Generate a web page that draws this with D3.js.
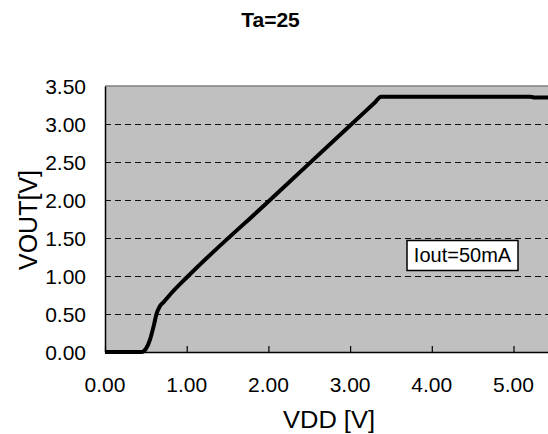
<!DOCTYPE html>
<html>
<head>
<meta charset="utf-8">
<script src="https://cdn.jsdelivr.net/npm/d3@7"></script>
<style>
  html, body { margin: 0; padding: 0; background: #fff; }
  svg { display: block; font-family: "Liberation Sans", Arial, sans-serif; }
</style>
</head>
<body>
<svg id="chart" width="548" height="434"></svg>
<script>
// VOUT vs VDD at Ta=25, Iout=50mA
const vdd  = [0.00, 0.45, 0.50, 0.55, 0.60, 0.63, 0.67, 0.72, 0.80, 1.00, 2.00, 3.00, 3.30, 3.38, 3.46, 5.20, 5.25, 5.50];
const vout = [0.00, 0.00, 0.04, 0.16, 0.36, 0.50, 0.60, 0.66, 0.76, 0.98, 1.98, 2.98, 3.28, 3.36, 3.36, 3.36, 3.35, 3.35];
const xTicks = [0, 1, 2, 3, 4, 5];
const yTicks = [0, 0.5, 1, 1.5, 2, 2.5, 3, 3.5];
const gridValues = [0.5, 1, 1.5, 2, 2.5, 3];

const svg = d3.select("#chart");
const plotLeft = 105, plotTop = 86, plotBottom = 352;

const x = d3.scaleLinear().domain([0, 5.5]).range([plotLeft, plotLeft + 5.5 * 81.7]);
const y = d3.scaleLinear().domain([0, 3.5]).range([plotBottom, plotTop]);

// plot background
svg.append("rect")
  .attr("x", plotLeft).attr("y", plotTop)
  .attr("width", x(5.5) - plotLeft).attr("height", plotBottom - plotTop)
  .attr("fill", "#c0c0c0");

// top border
svg.append("line")
  .attr("x1", plotLeft).attr("x2", x(5.5))
  .attr("y1", plotTop).attr("y2", plotTop)
  .attr("stroke", "#808080").attr("stroke-width", 1.5);

// dashed horizontal grid
svg.append("g").attr("shape-rendering", "crispEdges")
  .selectAll("line").data(gridValues).join("line")
  .attr("x1", plotLeft).attr("x2", x(5.5))
  .attr("y1", d => Math.round(y(d)) + 0.5).attr("y2", d => Math.round(y(d)) + 0.5)
  .attr("stroke", "#111").attr("stroke-width", 1)
  .attr("stroke-dasharray", "6,4");

// x axis: line with inward ticks
const xAxis = d3.axisBottom(x).tickValues(xTicks).tickSizeInner(-6).tickSizeOuter(0).tickFormat("");
const gx = svg.append("g").attr("transform", `translate(0,${plotBottom})`).call(xAxis);
gx.select(".domain").attr("stroke", "#000").attr("stroke-width", 1.5);
gx.selectAll(".tick line").attr("stroke", "#000").attr("stroke-width", 1.2);

// x tick labels
svg.append("g").selectAll("text").data(xTicks).join("text")
  .attr("x", d => x(d)).attr("y", 392)
  .attr("text-anchor", "middle")
  .attr("font-size", 21).attr("fill", "#000")
  .text(d => d.toFixed(2));

// y axis line
const yAxis = d3.axisLeft(y).tickValues(yTicks).tickSize(0).tickFormat("");
const gy = svg.append("g").attr("transform", `translate(${plotLeft},0)`).call(yAxis);
gy.select(".domain").attr("stroke", "#000").attr("stroke-width", 1.5);

// y tick labels
svg.append("g").selectAll("text").data(yTicks).join("text")
  .attr("x", 86).attr("y", d => y(d) + 7.5)
  .attr("text-anchor", "end")
  .attr("font-size", 21).attr("fill", "#000")
  .text(d => d.toFixed(2));

// curve
const line = d3.line().x((d, i) => x(vdd[i])).y(d => y(d)).curve(d3.curveMonotoneX);
svg.append("path")
  .datum(vout)
  .attr("d", line)
  .attr("fill", "none")
  .attr("stroke", "#000")
  .attr("stroke-width", 4)
  .attr("stroke-linejoin", "round");

// condition box
svg.append("rect")
  .attr("x", 407).attr("y", 240.5)
  .attr("width", 111).attr("height", 30)
  .attr("fill", "#fff").attr("stroke", "#000").attr("stroke-width", 1.5);
svg.append("text")
  .attr("x", 462.5).attr("y", 262)
  .attr("text-anchor", "middle")
  .attr("font-size", 20).attr("fill", "#000")
  .text("Iout=50mA");

// title
svg.append("text")
  .attr("x", 270.5).attr("y", 27)
  .attr("text-anchor", "middle")
  .attr("font-family", "'Liberation Sans Narrow', 'Liberation Sans', Arial, sans-serif")
  .attr("font-size", 21).attr("font-weight", "bold")
  .text("Ta=25");

// axis titles
svg.append("text")
  .attr("x", 329).attr("y", 428)
  .attr("text-anchor", "middle")
  .attr("font-size", 23)
  .attr("textLength", 92).attr("lengthAdjust", "spacingAndGlyphs")
  .text("VDD [V]");

svg.append("text")
  .attr("transform", "translate(37,220) rotate(-90)")
  .attr("text-anchor", "middle")
  .attr("font-size", 25)
  .attr("textLength", 100).attr("lengthAdjust", "spacingAndGlyphs")
  .text("VOUT[V]");
</script>
</body>
</html>
